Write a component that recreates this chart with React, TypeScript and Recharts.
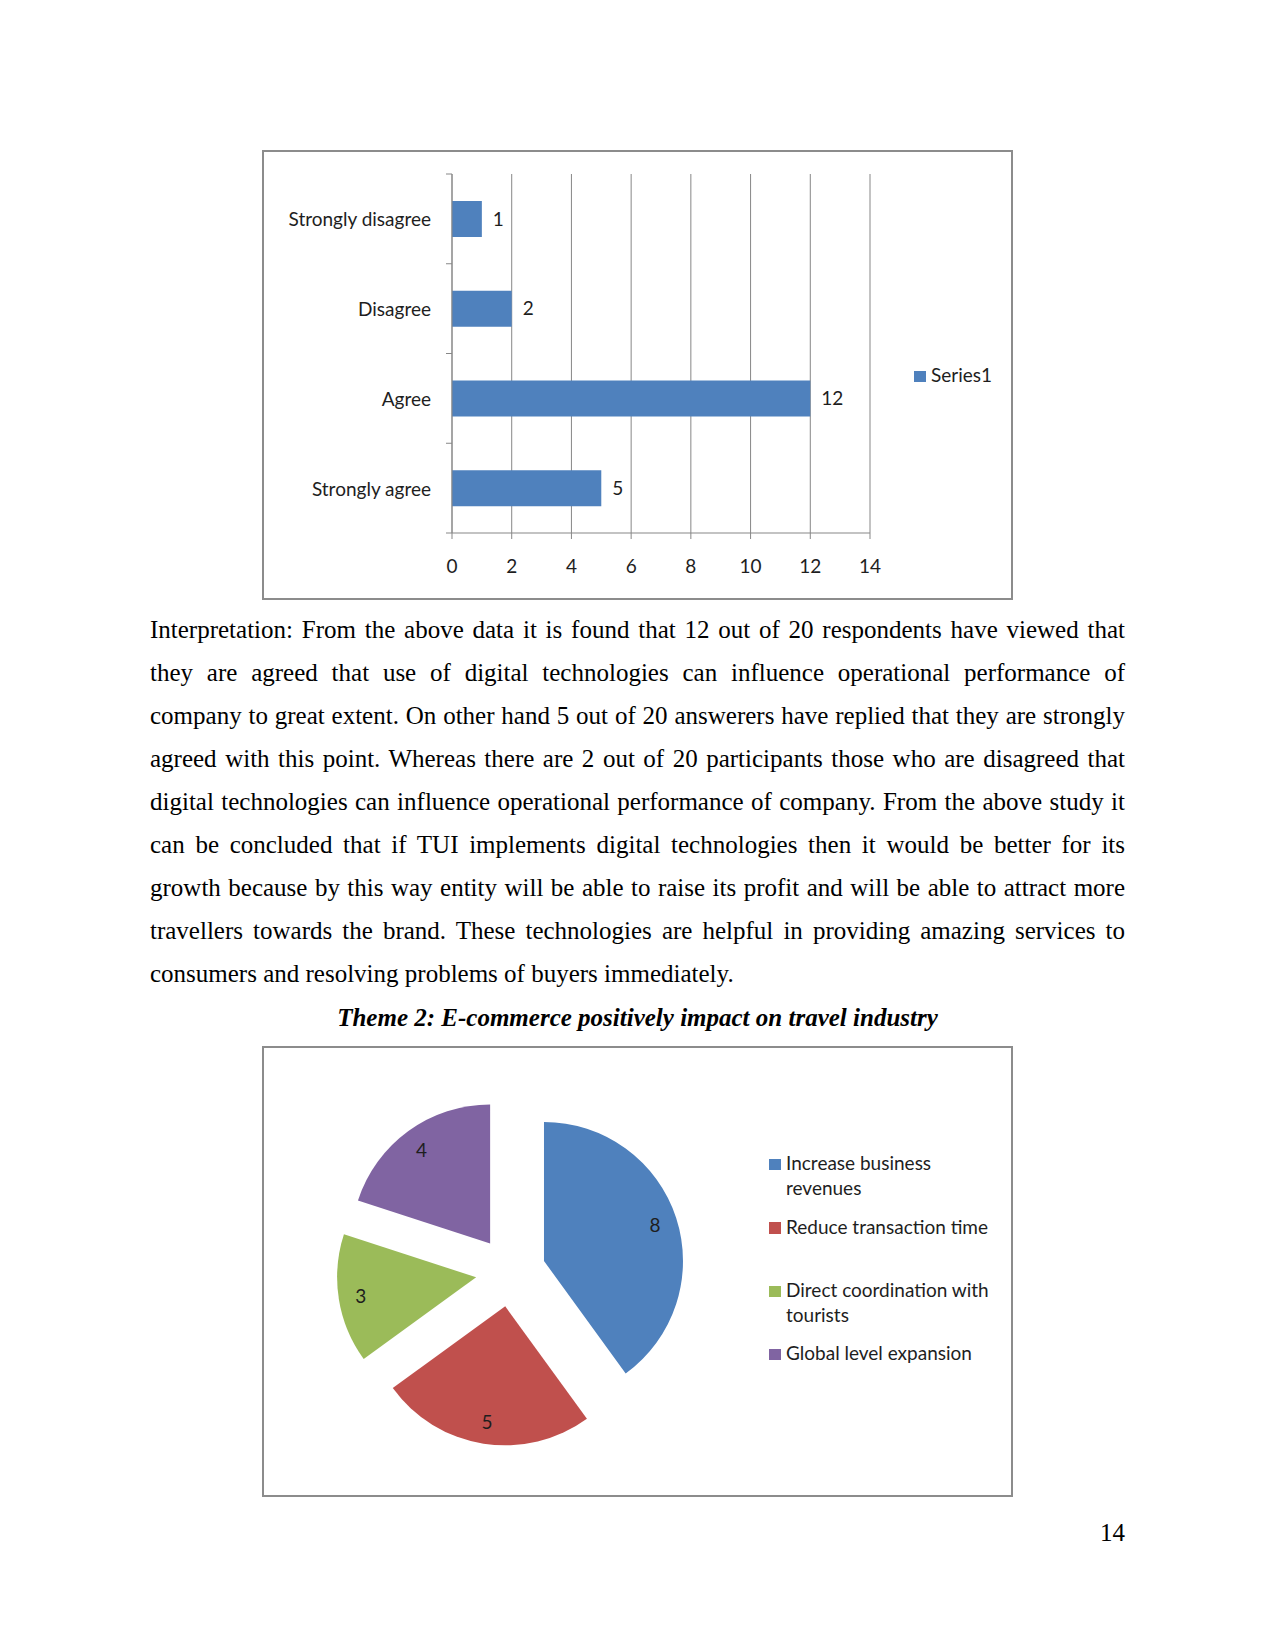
import React from "react";
import { BarChart, Bar, XAxis, YAxis, CartesianGrid, LabelList, PieChart, Pie, Cell } from "recharts";

// chart 1: agreement levels
const agreeLevels = ["Strongly disagree", "Disagree", "Agree", "Strongly agree"];
const agreeCounts = [1, 2, 12, 5];
const countTicks = [0, 2, 4, 6, 8, 10, 12, 14];
const seriesName = "Series1";

// chart 2: e-commerce impact
const impactNames = [
  "Increase business revenues",
  "Reduce transaction time",
  "Direct coordination with tourists",
  "Global level expansion",
];
const impactCounts = [8, 5, 3, 4];
const impactColors = ["#4F81BD", "#C0504D", "#9BBB59", "#8064A2"];

const paragraphLines = [
  "Interpretation: From the above data it is found that 12 out of 20 respondents have viewed that",
  "they are agreed that use of digital technologies can influence operational performance of",
  "company to great extent. On other hand 5 out of 20 answerers have replied that they are strongly",
  "agreed with this point. Whereas there are 2 out of 20 participants those who are disagreed that",
  "digital technologies can influence operational performance of company. From the above study it",
  "can be concluded that if TUI implements digital technologies then it would be better for its",
  "growth because by this way entity will be able to raise its profit and will be able to attract more",
  "travellers towards the brand. These technologies are helpful in providing amazing services to",
  "consumers and resolving problems of buyers immediately.",
];
const caption = "Theme 2: E-commerce positively impact on travel industry";
const pageNumber = "14";

const BLUE = "#4F81BD";
const GRID = "#878787";
const INK = "#1e1e1e";
const CHART_FONT = "Lato, 'Open Sans', sans-serif";
const SERIF = "'Liberation Serif', 'Times New Roman', serif";
const RAD = Math.PI / 180;

const barData = agreeLevels.map((name, i) => ({ name, count: agreeCounts[i] }));
const pieData = impactNames.map((name, i) => ({ name, value: impactCounts[i] }));

// exploded pie: every slice pushed out along its own bisector
const PIE_CX = 246.7;
const PIE_CY = 223.8;
const PIE_R = 139;
const EXPLODE = 35;
const total = impactCounts.reduce((a, b) => a + b, 0);
const slices = impactCounts.map((v, i) => {
  const before = impactCounts.slice(0, i).reduce((a, b) => a + b, 0);
  const mid = 90 - (360 * (before + v / 2)) / total;
  return { dx: EXPLODE * Math.cos(mid * RAD), dy: -EXPLODE * Math.sin(mid * RAD) };
});

const sliceLabel = (idx: number) => (p: any) => {
  if (p.index !== idx) return null;
  const r = p.outerRadius * 0.84;
  const x = p.cx + r * Math.cos(-p.midAngle * RAD);
  const y = p.cy + r * Math.sin(-p.midAngle * RAD);
  return (
    <text x={x} y={y} fill={INK} fontSize={19} fontFamily={CHART_FONT} textAnchor="middle" dominantBaseline="central">
      {p.value}
    </text>
  );
};

// category tick with Excel-style tick marks on the band edges instead of the centre
function CategoryTick(props: any) {
  const { x, y, payload, index, visibleTicksCount } = props;
  const half = payload?.offset ?? 0;
  const axisX = x + 21;
  return (
    <g>
      <line x1={axisX - 6} x2={axisX} y1={y - half} y2={y - half} stroke={GRID} />
      {index === visibleTicksCount - 1 && (
        <line x1={axisX - 6} x2={axisX} y1={y + half} y2={y + half} stroke={GRID} />
      )}
      <text x={x} y={y} textAnchor="end" dominantBaseline="central" fill={INK} fontSize={19} fontFamily={CHART_FONT}>
        {payload.value}
      </text>
    </g>
  );
}

const boxStyle: React.CSSProperties = {
  position: "absolute",
  left: 262,
  width: 751,
  border: "2px solid #8c8c8c",
  boxSizing: "border-box",
  fontFamily: CHART_FONT,
  background: "#fff",
};

function LegendEntry({ color, label, left, top, width }: { color: string; label: string; left: number; top: number; width: number }) {
  return (
    <div style={{ position: "absolute", left, top, width: width + 17, fontSize: 19, lineHeight: "24.5px", color: INK }}>
      <div style={{ position: "absolute", left: 0, top: 7.5, width: 11.5, height: 11.5, background: color }} />
      <div style={{ marginLeft: 17, width }}>{label}</div>
    </div>
  );
}

export default function App() {
  return (
    <div style={{ position: "absolute", left: 0, top: 0, width: 1275, height: 1651, background: "#fff" }}>
      <div style={{ ...boxStyle, top: 150, height: 450 }}>
        <BarChart
          width={747}
          height={446}
          data={barData}
          layout="vertical"
          margin={{ top: 22, right: 141, bottom: 35, left: 0 }}
        >
          <CartesianGrid horizontal={false} stroke={GRID} strokeWidth={1} />
          <YAxis
            type="category"
            dataKey="name"
            width={188}
            axisLine={{ stroke: GRID }}
            tickLine={false}
            tickSize={6}
            tickMargin={15}
            tick={<CategoryTick />}
          />
          <XAxis
            type="number"
            domain={[0, 14]}
            ticks={countTicks}
            height={30}
            axisLine={{ stroke: GRID }}
            tickLine={{ stroke: GRID }}
            tickSize={6}
            tickMargin={21}
            tick={{ fill: INK, fontSize: 19, fontFamily: CHART_FONT }}
          />
          <Bar dataKey="count" fill={BLUE} barSize={36} isAnimationActive={false}>
            <LabelList dataKey="count" position="right" offset={11} fill={INK} fontSize={19} fontFamily={CHART_FONT} />
          </Bar>
        </BarChart>
        <LegendEntry color={BLUE} label={seriesName} left={650} top={211} width={80} />
      </div>

      {paragraphLines.map((line, i) => {
        const last = i === paragraphLines.length - 1;
        return (
          <div
            key={i}
            style={{
              position: "absolute",
              left: 150,
              top: 608.4 + i * 43,
              width: 975,
              fontFamily: SERIF,
              fontSize: 25,
              lineHeight: "43px",
              color: "#000",
              textAlign: last ? "left" : "justify",
              textAlignLast: last ? "left" : "justify",
            }}
          >
            {line}
          </div>
        );
      })}

      <div
        style={{
          position: "absolute",
          left: 150,
          top: 996,
          width: 975,
          textAlign: "center",
          fontFamily: SERIF,
          fontSize: 25,
          lineHeight: "43px",
          fontWeight: "bold",
          fontStyle: "italic",
          color: "#000",
        }}
      >
        {caption}
      </div>

      <div style={{ ...boxStyle, top: 1046, height: 451 }}>
        <PieChart width={747} height={447} margin={{ top: 0, right: 0, bottom: 0, left: 0 }}>
          {slices.map((s, idx) => (
            <Pie
              key={idx}
              data={pieData}
              dataKey="value"
              nameKey="name"
              cx={PIE_CX + s.dx}
              cy={PIE_CY + s.dy}
              outerRadius={PIE_R}
              startAngle={90}
              endAngle={-270}
              stroke="none"
              label={sliceLabel(idx)}
              labelLine={false}
              isAnimationActive={false}
            >
              {pieData.map((d, j) => (
                <Cell key={d.name} fill={j === idx ? impactColors[j] : "none"} stroke="none" />
              ))}
            </Pie>
          ))}
        </PieChart>
        {impactNames.map((name, i) => (
          <LegendEntry key={name} color={impactColors[i]} label={name} left={505} top={103.4 + i * 63.3} width={215} />
        ))}
      </div>

      <div
        style={{
          position: "absolute",
          left: 150,
          top: 1510.6,
          width: 975,
          textAlign: "right",
          fontFamily: SERIF,
          fontSize: 25,
          lineHeight: "43px",
          color: "#000",
        }}
      >
        {pageNumber}
      </div>
    </div>
  );
}
